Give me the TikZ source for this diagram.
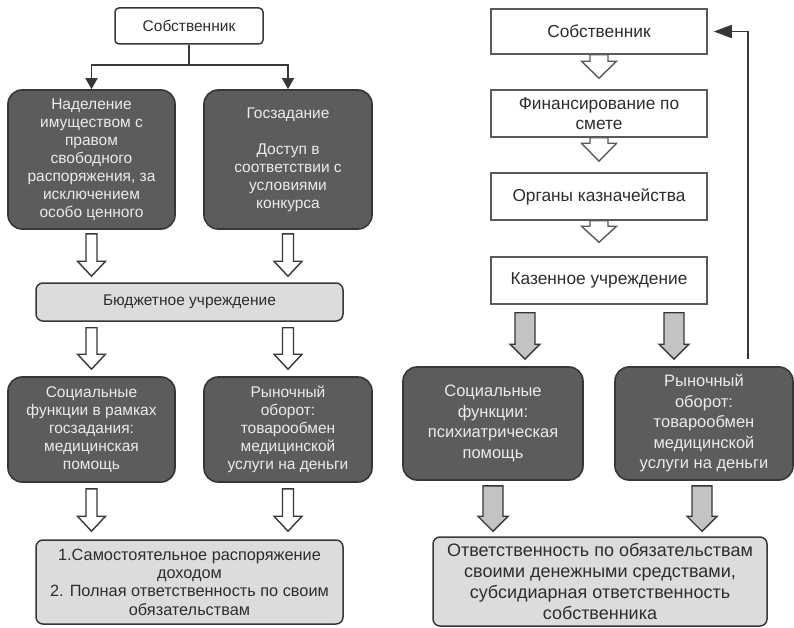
\documentclass[tikz,border=0pt]{standalone}
\usepackage{fontspec}
\setmainfont{Liberation Sans}
\usetikzlibrary{arrows.meta,calc}
\definecolor{darkfill}{RGB}{92,92,92}
\definecolor{darkline}{RGB}{55,55,55}
\definecolor{lightfill}{RGB}{220,220,220}
\definecolor{txt}{RGB}{45,45,45}
\definecolor{wtxt}{RGB}{235,235,235}
\definecolor{grayarrow}{RGB}{195,195,195}
\definecolor{boxline}{RGB}{90,90,90}
\newcommand{\blockarrow}[6]{%
 \draw[#1] let \p1=#2, \p2=#3 in
 (\x1-#4pt,\y1) -- (\x1+#4pt,\y1) -- (\x1+#4pt,\y2+#6pt) -- (\x1+#5pt,\y2+#6pt)
 -- (\x1,\y2) -- (\x1-#5pt,\y2+#6pt) -- (\x1-#4pt,\y2+#6pt) -- cycle;}
\tikzset{
 fl/.style={font=\fontsize{15.5}{18}\selectfont},
 flb/.style={font=\fontsize{16.3}{18.3}\selectfont},
 fr/.style={font=\fontsize{16.5}{20.5}\selectfont},
 frw/.style={font=\fontsize{17.3}{20.5}\selectfont},
 frb/.style={font=\fontsize{18}{21}\selectfont},
 darkbox/.style={draw=darkline, fill=darkfill, rounded corners=14pt, text=wtxt, align=center, line width=1.6pt, inner sep=0pt},
 lightbox/.style={draw=darkline, fill=lightfill, rounded corners=7pt, text=txt, align=center, line width=1.5pt, inner sep=0pt},
 whitebox/.style={draw=darkline, fill=white, rounded corners=4pt, text=txt, align=center, line width=1.5pt, inner sep=0pt},
 sqbox/.style={draw=boxline, fill=white, text=txt, align=center, line width=1.5pt, inner sep=0pt},
 conn/.style={draw=darkline, line width=1.4pt},
 connarrow/.style={conn, -{Triangle[length=11pt,width=12pt]}},
 fbarrow/.style={conn, line width=1.7pt, -{Triangle[length=18pt,width=13pt]}},
 harrow/.style={draw=darkline, fill=white, line width=1.4pt, line join=miter},
 chevarrow/.style={draw=boxline, fill=white, line width=1.4pt, line join=miter},
 garrow/.style={draw=darkline, fill=grayarrow, line width=1.4pt, line join=miter},
}
\begin{document}
\begin{tikzpicture}[x=1pt,y=-1pt]
\fill[white] (0,0) rectangle (794,628);
\useasboundingbox (0,0) rectangle (794,628);
% ---------- left ----------
\node[whitebox, fl, minimum width=148pt, minimum height=36pt] (own1) at (189,26) {Собственник};
\node[darkbox, fl, minimum width=167pt, minimum height=139pt] (dark1) at (91.5,159.5)
 {Наделение\\имуществом с\\правом\\свободного\\распоряжения, за\\исключением\\особо ценного};
\node[darkbox, fl, minimum width=168pt, minimum height=139pt] (dark2) at (288,159.5)
 {Госзадание\\[18pt]Доступ в\\соответствии с\\условиями\\конкурса};
\node[lightbox, fl, minimum width=307pt, minimum height=38pt] (budget) at (189.5,302) {Бюджетное учреждение};
\node[darkbox, fl, minimum width=167pt, minimum height=105pt] (dark3) at (91.5,429.5)
 {Социальные\\функции в рамках\\госзадания:\\медицинская\\помощь};
\node[darkbox, fl, minimum width=168pt, minimum height=105pt] (dark4) at (288,429.5)
 {Рыночный\\оборот:\\товарообмен\\медицинской\\услуги на деньги};
\node[lightbox, flb, minimum width=307pt, minimum height=84pt] (resp1) at (189.5,582)
 {1.Самостоятельное распоряжение\\доходом\\2. Полная ответственность по своим\\обязательствам};
\coordinate (split) at (own1.south |- 0,65);
\draw[conn] (own1.south) -- (split);
\draw[connarrow] (split) -| (dark1.north);
\draw[connarrow] (split) -| (dark2.north);
\blockarrow{harrow}{($(dark1.south)+(0,4)$)}{($(budget.north -| dark1.south)+(0,-6)$)}{5.5}{14}{15}
\blockarrow{harrow}{($(dark2.south)+(0,4)$)}{($(budget.north -| dark2.south)+(0,-6)$)}{5.5}{14}{15}
\blockarrow{harrow}{($(budget.south -| dark3.north)+(0,6)$)}{($(dark3.north)+(0,-7)$)}{5.5}{14}{15}
\blockarrow{harrow}{($(budget.south -| dark4.north)+(0,6)$)}{($(dark4.north)+(0,-7)$)}{5.5}{14}{15}
\blockarrow{harrow}{($(dark3.south)+(0,6)$)}{($(resp1.north -| dark3.south)+(0,-8)$)}{5.5}{14}{15}
\blockarrow{harrow}{($(dark4.south)+(0,6)$)}{($(resp1.north -| dark4.south)+(0,-8)$)}{5.5}{14}{15}
% ---------- right ----------
\node[sqbox, frw, minimum width=216pt, minimum height=45pt] (own2) at (599,31.5) {Собственник};
\node[sqbox, frw, minimum width=216pt, minimum height=47pt] (fin) at (599,113.5) {Финансирование по\\смете};
\node[sqbox, frw, minimum width=216pt, minimum height=47pt] (kazn) at (599,196.5) {Органы казначейства};
\node[sqbox, frw, minimum width=216pt, minimum height=47pt] (kaz) at (599,280.5) {Казенное учреждение};
\node[darkbox, fr, minimum width=180pt, minimum height=113pt] (dark5) at (493,423.5)
 {Социальные\\функции:\\психиатрическая\\помощь};
\node[darkbox, fr, minimum width=178pt, minimum height=113pt] (dark6) at (704,423.5)
 {Рыночный\\оборот:\\товарообмен\\медицинской\\услуги на деньги};
\node[lightbox, frb, minimum width=334pt, minimum height=89pt] (resp2) at (600,581.5)
 {Ответственность по обязательствам\\своими денежными средствами,\\субсидиарная ответственность\\собственника};
\blockarrow{chevarrow}{(own2.south)}{($(fin.north)+(0,-11)$)}{9}{17.5}{17}
\blockarrow{chevarrow}{(fin.south)}{($(kazn.north)+(0,-11)$)}{9}{17.5}{18}
\blockarrow{chevarrow}{(kazn.south)}{($(kaz.north)+(0,-14)$)}{9}{17.5}{16}
\coordinate (ka) at ($(kaz.south)+(-74,8)$);
\coordinate (kb) at ($(kaz.south)+(75,8)$);
\blockarrow{garrow}{(ka)}{($(ka |- dark5.north)+(0,-7)$)}{10}{15}{15}
\blockarrow{garrow}{(kb)}{($(kb |- dark6.north)+(0,-7)$)}{10}{15}{15}
\blockarrow{garrow}{($(dark5.south)+(0,5)$)}{($(resp2.north -| dark5.south)+(0,-5)$)}{10}{15}{15}
\blockarrow{garrow}{($(dark6.south)+(-2,5)$)}{($(resp2.north -| dark6.south)+(-2,-5)$)}{10}{15}{15}
\coordinate (fb) at ($(dark6.north)+(44,-7)$);
\draw[fbarrow] (fb) |- ($(own2.east)+(6,0)$);
\end{tikzpicture}
\end{document}
